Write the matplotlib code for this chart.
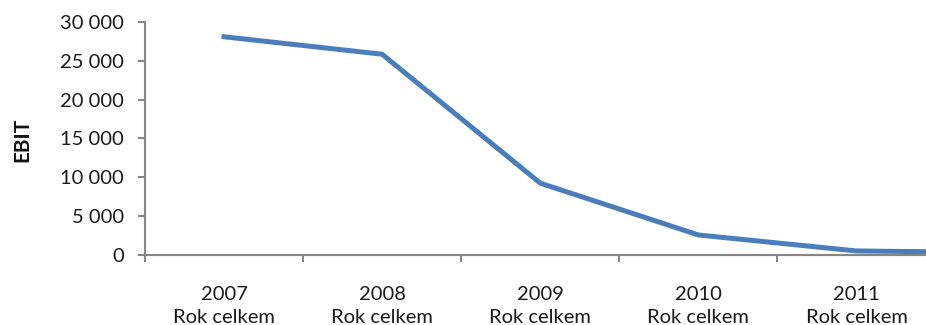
import matplotlib
matplotlib.use('Agg')
import matplotlib.pyplot as plt
from matplotlib.ticker import FixedLocator

# data (last year is cut by the right edge)
years = ['2007', '2008', '2009', '2010', '2011', '2012']
ebit = [28100, 25850, 9250, 2580, 520, 300]
yticks = [0, 5000, 10000, 15000, 20000, 25000, 30000]
ytick_labels = ['0', '5 000', '10 000', '15 000', '20 000', '25 000', '30 000']
shown_labels = [y + '\nRok celkem' for y in years[:5]]

plt.rcParams['font.family'] = ['Lato', 'DejaVu Sans']

fig = plt.figure(figsize=(9.26, 3.25), dpi=100)
ax = fig.add_axes([0.1566, 0.2154, 0.8434, 0.7169])

x = list(range(len(years)))
ax.plot(x, ebit, color='#4A7EBB', linewidth=3.6, solid_joinstyle='miter')

ax.set_xlim(-0.5, 4.44)
ax.set_ylim(0, 30000)

ax.set_yticks(yticks)
ax.set_yticklabels(ytick_labels)
ax.xaxis.set_major_locator(FixedLocator([-0.5, 0.5, 1.5, 2.5, 3.5]))
ax.xaxis.set_major_formatter(plt.NullFormatter())
ax.set_xticks(range(5), minor=True)
ax.set_xticklabels(shown_labels, minor=True)

for s in ['top', 'right']:
    ax.spines[s].set_visible(False)
for s in ['left', 'bottom']:
    ax.spines[s].set_color('#868686')
    ax.spines[s].set_linewidth(1.5)

ax.tick_params(axis='y', which='major', direction='out', length=5, width=1.5,
               color='#868686', labelsize=14.5, pad=10, labelcolor='#1a1a1a')
ax.tick_params(axis='x', which='major', direction='out', length=5, width=1.5,
               color='#868686')
ax.tick_params(axis='x', which='minor', length=0, labelsize=14.5, pad=22,
               labelcolor='#1a1a1a')
for t in ax.get_xticklabels(minor=True):
    t.set_linespacing(1.45)

fig.text(22 / 926, 1 - 140 / 325, 'EBIT', rotation=90, ha='center', va='center',
         fontsize=15, fontweight='bold', color='#111111')

fig.savefig('out.png', dpi=100)
